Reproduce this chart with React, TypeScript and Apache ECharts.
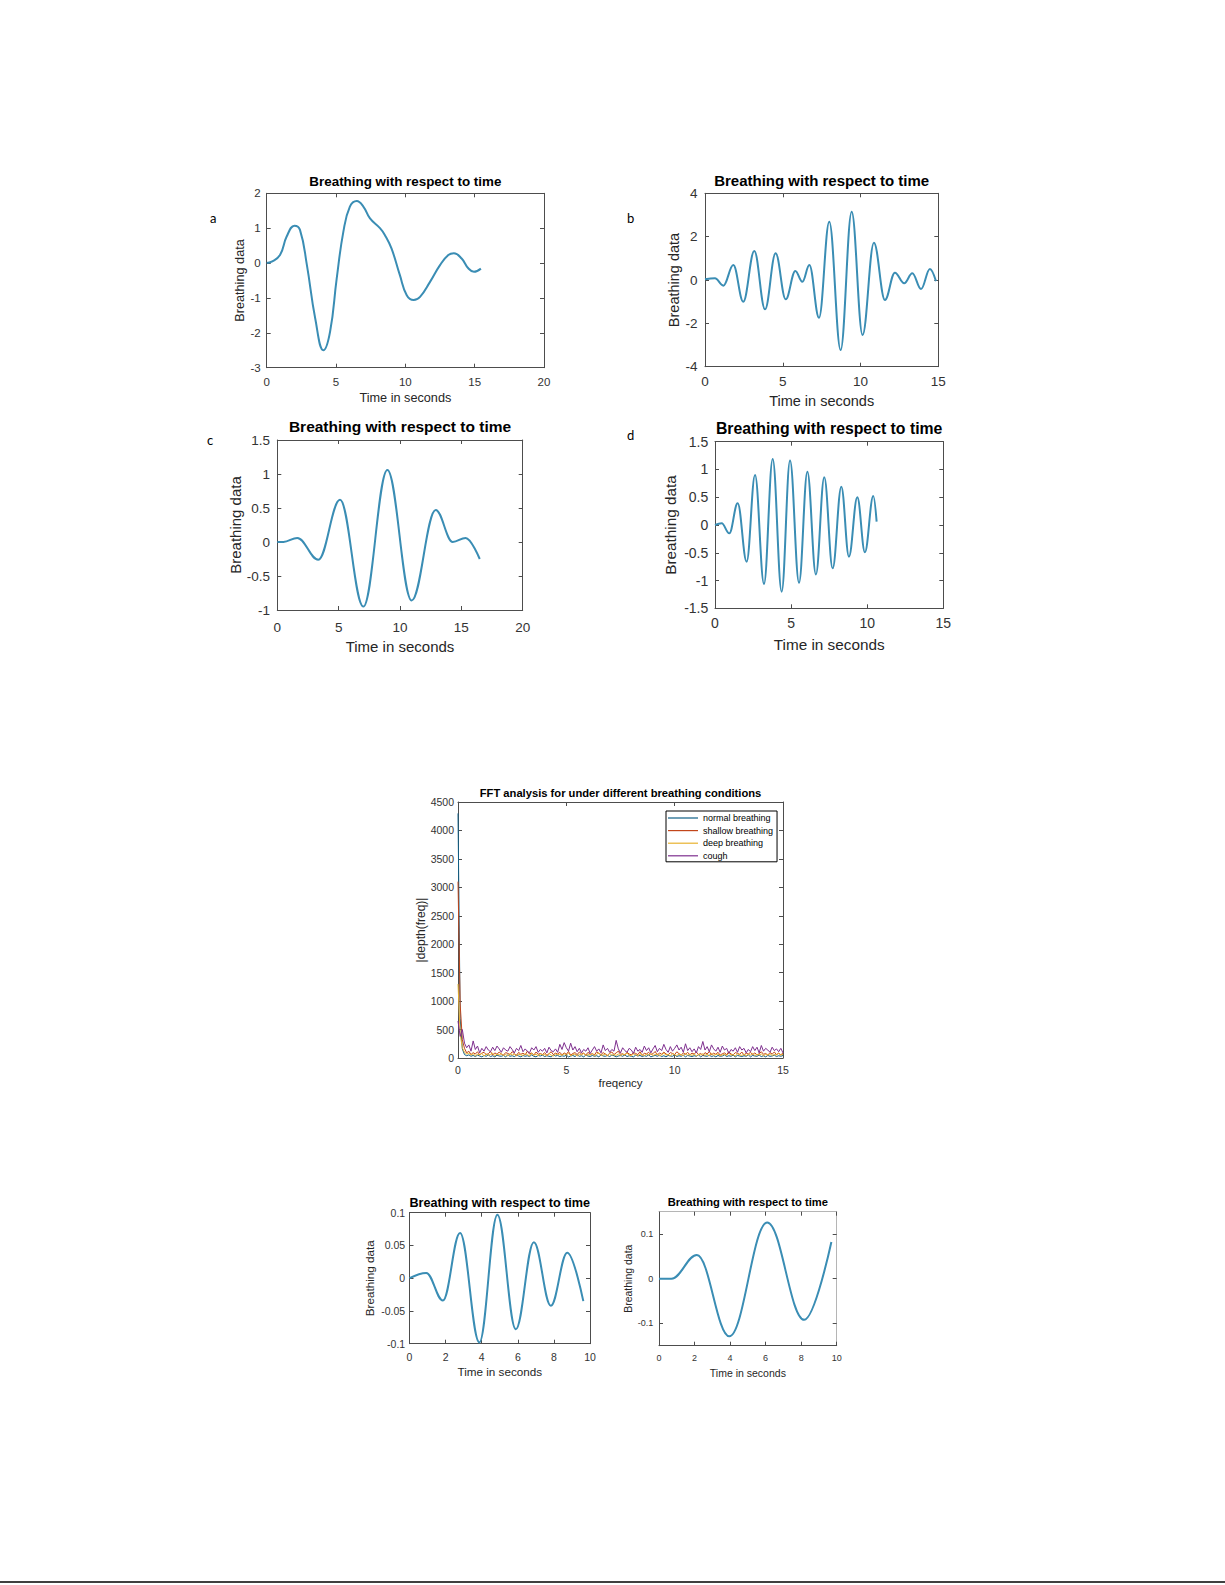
import { useEffect, useRef } from "react";
import * as echarts from "echarts";

// ---- panel a
const aTime = [0, 0.36, 0.96, 1.44, 2.0, 2.4, 2.9, 3.5, 4.09, 4.57, 5.05, 5.53, 6.0, 6.5, 6.97, 7.45, 8.17, 8.53, 9.0, 9.6, 10.1, 10.6, 11.06, 11.78, 12.5, 13.1, 13.5, 14.06, 14.54, 14.95, 15.45];
const aValue = [0, 0.04, 0.23, 0.76, 1.07, 0.95, -0.06, -1.59, -2.5, -1.97, -0.44, 0.9, 1.62, 1.78, 1.62, 1.28, 1.0, 0.8, 0.42, -0.34, -0.92, -1.06, -0.97, -0.54, -0.06, 0.23, 0.28, 0.13, -0.15, -0.25, -0.16];

// ---- panel b (turning points)
const bTime = [0, 0.64, 1.18, 1.82, 2.46, 3.17, 3.86, 4.54, 5.19, 5.81, 6.26, 6.71, 7.33, 7.99, 8.72, 9.43, 10.13, 10.86, 11.57, 12.21, 12.81, 13.33, 13.89, 14.46, 14.85];
const bValue = [0.03, 0.08, -0.26, 0.69, -1.0, 1.34, -1.35, 1.23, -0.89, 0.42, -0.08, 0.69, -1.74, 2.69, -3.23, 3.15, -2.54, 1.72, -0.92, 0.34, -0.15, 0.31, -0.42, 0.51, -0.05];

// ---- panel c
const cTime = [0, 0.5, 1.63, 3.34, 5.11, 7.01, 8.97, 10.95, 12.91, 14.3, 15.35, 16.5];
const cValue = [0, 0, 0.06, -0.26, 0.62, -0.95, 1.06, -0.86, 0.47, 0.0, 0.06, -0.25];

// ---- panel d
const dTime = [0, 0.44, 0.94, 1.49, 2.08, 2.63, 3.22, 3.79, 4.38, 4.93, 5.52, 6.07, 6.63, 7.18, 7.73, 8.3, 8.8, 9.35, 9.85, 10.4, 10.62];
const dValue = [0, 0.03, -0.15, 0.39, -0.66, 0.9, -1.06, 1.19, -1.2, 1.16, -1.04, 0.96, -0.89, 0.86, -0.78, 0.69, -0.57, 0.5, -0.49, 0.52, 0.06];

// ---- bottom left / bottom right
const blTime = [0, 0.93, 1.85, 2.8, 3.87, 4.87, 5.89, 6.89, 7.83, 8.74, 9.63];
const blValue = [0, 0.008, -0.034, 0.069, -0.098, 0.097, -0.078, 0.055, -0.042, 0.039, -0.035];
const brTime = [0, 0.7, 2.13, 3.96, 6.09, 8.17, 9.7];
const brValue = [0, 0, 0.053, -0.129, 0.126, -0.092, 0.082];
const brYTicks = [-0.1, 0, 0.1];

// ---- FFT, one value every 0.1 Hz from 0 to 15
const fftStep = 0.1;
const fftNames = ["normal breathing", "shallow breathing", "deep breathing", "cough"];
const fftColors = ["#0f5f86", "#c2461a", "#e8b12e", "#7e2f8e"];
const normalFft = [
  4300, 700, 160, 60, 40, 55, 30, 45, 25, 50,
  35, 20, 45, 30, 55, 25, 40, 20, 50, 35,
  30, 45, 20, 55, 30, 40, 25, 50, 35, 20,
  45, 30, 40, 25, 55, 30, 20, 45, 35, 50,
  25, 40, 30, 20, 55, 35, 45, 25, 40, 30,
  50, 20, 35, 45, 25, 55, 30, 40, 20, 50,
  35, 25, 45, 30, 40, 20, 55, 35, 30, 45,
  25, 50, 40, 20, 35, 45, 30, 55, 25, 40,
  30, 20, 50, 35, 45, 25, 40, 30, 55, 20,
  35, 45, 30, 50, 25, 40, 20, 45, 35, 30,
  55, 25, 40, 30, 50, 20, 45, 35, 25, 40,
  30, 55, 20, 45, 35, 30, 50, 25, 40, 20,
  45, 30, 35, 55, 25, 40, 30, 50, 20, 45,
  35, 25, 40, 30, 55, 20, 45, 35, 30, 50,
  25, 40, 20, 45, 30, 35, 50, 25, 40, 30,
  45,
];
const shallowFft = [
  3100, 950, 320, 170, 90, 120, 60, 95, 70, 110,
  55, 85, 100, 60, 75, 115, 50, 90, 65, 105,
  70, 50, 95, 80, 60, 110, 75, 45, 100, 65,
  85, 55, 120, 70, 90, 50, 105, 65, 80, 60,
  95, 45, 75, 110, 60, 85, 70, 100, 55, 90,
  65, 115, 50, 80, 95, 60, 105, 70, 85, 50,
  100, 65, 75, 55, 110, 80, 60, 95, 70, 45,
  85, 105, 60, 90, 120, 65, 75, 50, 100, 70,
  55, 95, 80, 60, 110, 45, 85, 70, 100, 60,
  75, 115, 50, 90, 65, 105, 70, 55, 95, 80,
  60, 110, 75, 50, 90, 65, 100, 55, 85, 70,
  105, 60, 80, 45, 95, 70, 115, 55, 85, 65,
  100, 50, 75, 90, 60, 110, 70, 55, 95, 80,
  65, 105, 50, 85, 70, 100, 60, 90, 55, 75,
  110, 65, 80, 50, 95, 70, 105, 60, 85, 55,
  90,
];
const deepFft = [
  1300, 420, 180, 100, 70, 85, 50, 75, 40, 65,
  55, 80, 35, 70, 50, 60, 85, 40, 65, 55,
  75, 45, 60, 35, 80, 50, 70, 40, 65, 55,
  45, 75, 60, 35, 85, 50, 65, 40, 70, 55,
  60, 40, 80, 50, 35, 70, 55, 65, 45, 75,
  50, 85, 40, 60, 70, 35, 65, 55, 80, 45,
  60, 50, 75, 40, 65, 90, 45, 55, 70, 35,
  80, 50, 60, 45, 70, 40, 65, 55, 85, 50,
  40, 70, 60, 35, 75, 55, 45, 65, 50, 80,
  45, 60, 70, 40, 55, 85, 50, 65, 35, 75,
  55, 45, 70, 60, 40, 80, 50, 65, 45, 70,
  35, 60, 55, 75, 45, 65, 40, 80, 50, 60,
  70, 40, 55, 65, 45, 85, 50, 60, 35, 75,
  55, 45, 70, 40, 65, 50, 80, 45, 60, 55,
  70, 40, 65, 50, 75, 45, 60, 55, 80, 50,
  65,
];
const coughFft = [
  650, 380, 500, 260, 180, 230, 120, 300, 150, 210,
  90, 170, 120, 200, 140, 110, 190, 130, 210, 160,
  100, 180, 140, 120, 200, 150, 90, 170, 130, 220,
  110, 160, 120, 90, 180, 140, 200, 100, 150, 120,
  170, 90, 190, 130, 110, 160, 100, 240, 150, 270,
  180, 120, 260, 140, 200, 110, 170, 90, 150, 120,
  180, 80, 140, 200, 120, 160, 90, 230, 130, 170,
  100, 150, 120, 310, 160, 90, 180, 130, 100, 170,
  140, 80, 190, 120, 150, 100, 210, 130, 180, 90,
  160, 220, 110, 170, 130, 240, 150, 100, 200, 120,
  170, 230, 140, 190, 100, 250, 130, 180, 110, 160,
  90, 200, 150, 290, 140, 200, 110, 230, 160, 120,
  190, 100, 210, 140, 170, 80, 150, 120, 180, 100,
  200, 140, 170, 90, 150, 110, 200, 130, 190, 90,
  220, 120, 170, 140, 100, 190, 130, 160, 110, 170,
  90,
];
const fftSeries = [normalFft, shallowFft, deepFft, coughFft];

const FONT = '"Liberation Sans", Arial, Helvetica, sans-serif';
const AXIS_COLOR = "#4d4d4d";
const LABEL_COLOR = "#333333";
const CURVE_COLOR = "#3a8db4";

type Panel = {
  left: number; top: number; width: number; height: number;
  xMin: number; xMax: number; xStep: number;
  yMin: number; yMax: number; yStep: number; yTicks?: number[];
  tickSize: number; xMargin: number; yMargin: number;
  xName: string; yName: string; xNameSize: number; yNameSize: number; xNameGap: number; yNameGap: number;
  title: string; titleSize: number; titleY: number;
  boxColor?: string;
};

const TITLE = "Breathing with respect to time";
const TIME = "Time in seconds";
const BREATH = "Breathing data";

const panels: Panel[] = [
  { left: 266.7, top: 193.3, width: 277.3, height: 174.4, xMin: 0, xMax: 20, xStep: 5, yMin: -3, yMax: 2, yStep: 1,
    tickSize: 11.5, xMargin: 8, yMargin: 6, xName: TIME, yName: BREATH, xNameSize: 12.7, yNameSize: 12.7, xNameGap: 24, yNameGap: 20,
    title: TITLE, titleSize: 13.4, titleY: 181 },
  { left: 705, top: 193.3, width: 233.3, height: 173.4, xMin: 0, xMax: 15, xStep: 5, yMin: -4, yMax: 4, yStep: 2,
    tickSize: 13.5, xMargin: 8, yMargin: 7.5, xName: TIME, yName: BREATH, xNameSize: 14.5, yNameSize: 14.5, xNameGap: 27, yNameGap: 22.7,
    title: TITLE, titleSize: 15, titleY: 180 },
  { left: 277.3, top: 440, width: 245.4, height: 170, xMin: 0, xMax: 20, xStep: 5, yMin: -1, yMax: 1.5, yStep: 0.5,
    tickSize: 13.5, xMargin: 10, yMargin: 7.3, xName: TIME, yName: BREATH, xNameSize: 15, yNameSize: 15, xNameGap: 28.5, yNameGap: 34.8,
    title: TITLE, titleSize: 15.5, titleY: 426.7 },
  { left: 715, top: 441.7, width: 228.3, height: 166.6, xMin: 0, xMax: 15, xStep: 5, yMin: -1.5, yMax: 1.5, yStep: 0.5,
    tickSize: 14, xMargin: 7.7, yMargin: 6.7, xName: TIME, yName: BREATH, xNameSize: 15.3, yNameSize: 15.3, xNameGap: 29, yNameGap: 37.3,
    title: TITLE, titleSize: 15.8, titleY: 428.3 },
  { left: 458, top: 802, width: 325, height: 256, xMin: 0, xMax: 15, xStep: 5, yMin: 0, yMax: 4500, yStep: 500,
    tickSize: 10.5, xMargin: 6.8, yMargin: 4, xName: "freqency", yName: "|depth(freq)|", xNameSize: 11.5, yNameSize: 12, xNameGap: 19.3, yNameGap: 25.3,
    title: "FFT analysis for under different breathing conditions", titleSize: 11.2, titleY: 792.7 },
  { left: 409.5, top: 1212.7, width: 180.5, height: 131, xMin: 0, xMax: 10, xStep: 2, yMin: -0.1, yMax: 0.1, yStep: 0.05,
    tickSize: 10.5, xMargin: 7.7, yMargin: 4.3, xName: TIME, yName: BREATH, xNameSize: 11.7, yNameSize: 11.7, xNameGap: 22, yNameGap: 33.6,
    title: TITLE, titleSize: 12.6, titleY: 1202.7 },
  { left: 659, top: 1211.7, width: 177.7, height: 134, xMin: 0, xMax: 10, xStep: 2, yMin: -0.15, yMax: 0.15, yStep: 0.05, yTicks: brYTicks,
    tickSize: 9, xMargin: 8, yMargin: 5.7, xName: TIME, yName: BREATH, xNameSize: 10.5, yNameSize: 10.5, xNameGap: 22, yNameGap: 25.4,
    title: TITLE, titleSize: 11.2, titleY: 1201.7, boxColor: "#b5b5b5" },
];

const breathing: Array<[number[], number[], number, boolean]> = [
  [aTime, aValue, 0, false],
  [bTime, bValue, 1, true],
  [cTime, cValue, 2, true],
  [dTime, dValue, 3, true],
  [blTime, blValue, 5, true],
  [brTime, brValue, 6, true],
];

const pageLabels: Array<[string, number, number]> = [
  ["a", 213.3, 217.7],
  ["b", 630.7, 217.7],
  ["c", 210, 440],
  ["d", 630.7, 435],
];

const plainNumber = (v: number) => String(Number(v.toFixed(6)));

function makeAxis(p: Panel, gridIndex: number, dim: "x" | "y", mirror: boolean) {
  const isX = dim === "x";
  const custom = isX ? undefined : p.yTicks;
  const axis: any = {
    type: "value",
    gridIndex,
    position: isX ? (mirror ? "top" : "bottom") : mirror ? "right" : "left",
    min: isX ? p.xMin : p.yMin,
    max: isX ? p.xMax : p.yMax,
    interval: isX ? p.xStep : p.yStep,
    axisLine: { show: true, onZero: false, lineStyle: { color: mirror && p.boxColor ? p.boxColor : AXIS_COLOR, width: 1 } },
    axisTick: { show: true, inside: true, length: 4, lineStyle: { color: AXIS_COLOR, width: 1 } },
    axisLabel: {
      show: !mirror,
      margin: isX ? p.xMargin : p.yMargin,
      fontSize: p.tickSize,
      fontFamily: FONT,
      color: LABEL_COLOR,
      formatter: plainNumber,
    },
    splitLine: { show: false },
  };
  if (custom) {
    axis.axisTick.customValues = custom;
    axis.axisLabel.customValues = custom;
  }
  if (!mirror) {
    axis.name = isX ? p.xName : p.yName;
    axis.nameLocation = "middle";
    axis.nameGap = isX ? p.xNameGap : p.yNameGap;
    axis.nameTextStyle = { fontSize: isX ? p.xNameSize : p.yNameSize, fontFamily: FONT, color: "#262626" };
  }
  return axis;
}

function buildOption() {
  const grid: any[] = [];
  const xAxis: any[] = [];
  const yAxis: any[] = [];
  const graphics: any[] = [];

  panels.forEach((p, i) => {
    grid.push({ left: p.left, top: p.top, width: p.width, height: p.height, containLabel: false, outerBoundsMode: "none" });
    xAxis.push(makeAxis(p, i, "x", false), makeAxis(p, i, "x", true));
    yAxis.push(makeAxis(p, i, "y", false), makeAxis(p, i, "y", true));
    graphics.push({
      type: "text",
      x: p.left + p.width / 2,
      y: p.titleY,
      style: {
        text: p.title,
        fontSize: p.titleSize,
        fontWeight: "bold",
        fontFamily: FONT,
        fill: "#000",
        align: "center",
        verticalAlign: "middle",
      },
    });
  });

  pageLabels.forEach(([t, x, y]) => {
    graphics.push({
      type: "text",
      x,
      y,
      style: { text: t, fontSize: 13, fontFamily: "Lato, 'Open Sans', sans-serif", fill: "#000", align: "center", verticalAlign: "middle" },
    });
  });

  // page edge rule at the very bottom
  graphics.push({
    type: "line",
    shape: { x1: 0, y1: 1582, x2: 1225, y2: 1582 },
    style: { stroke: "#000", lineWidth: 1.5 },
  });

  const series: any[] = [];
  breathing.forEach(([t, v, gi, monotone]) => {
    series.push({
      type: "line",
      xAxisIndex: gi * 2,
      yAxisIndex: gi * 2,
      data: t.map((x, k) => [x, v[k]]),
      showSymbol: false,
      symbol: "none",
      smooth: monotone ? 0.38 : 0.45,
      smoothMonotone: monotone ? "x" : undefined,
      lineStyle: { color: CURVE_COLOR, width: 2 },
      itemStyle: { color: CURVE_COLOR },
    });
  });

  fftSeries.forEach((vals, k) => {
    series.push({
      type: "line",
      name: fftNames[k],
      xAxisIndex: 8,
      yAxisIndex: 8,
      data: vals.map((y, i) => [Number((i * fftStep).toFixed(2)), y]),
      showSymbol: false,
      symbol: "none",
      color: fftColors[k],
      lineStyle: { color: fftColors[k], width: 1 },
      itemStyle: { color: fftColors[k] },
    });
  });

  return {
    animation: false,
    backgroundColor: "#ffffff",
    textStyle: { fontFamily: FONT },
    grid,
    xAxis,
    yAxis,
    series,
    legend: {
      data: fftNames,
      orient: "vertical",
      left: 666,
      top: 811,
      padding: [2.5, 4, 1.5, 2],
      itemGap: 3.6,
      icon: "rect",
      itemWidth: 30,
      itemHeight: 1.2,
      borderColor: "#000",
      borderWidth: 1,
      backgroundColor: "#fff",
      textStyle: { fontSize: 9, lineHeight: 9, fontFamily: FONT, color: "#000" },
    },
    graphic: { elements: graphics },
  };
}

export default function App() {
  const chartRef = useRef<HTMLDivElement | null>(null);

  useEffect(() => {
    if (!chartRef.current) return;
    const chart = echarts.init(chartRef.current, undefined, { renderer: "svg" });
    chart.setOption(buildOption());
    return () => {
      chart.dispose();
    };
  }, []);

  return (
    <div
      ref={chartRef}
      style={{ position: "absolute", left: 0, top: 0, width: 1225, height: 1585, background: "#fff" }}
    />
  );
}
